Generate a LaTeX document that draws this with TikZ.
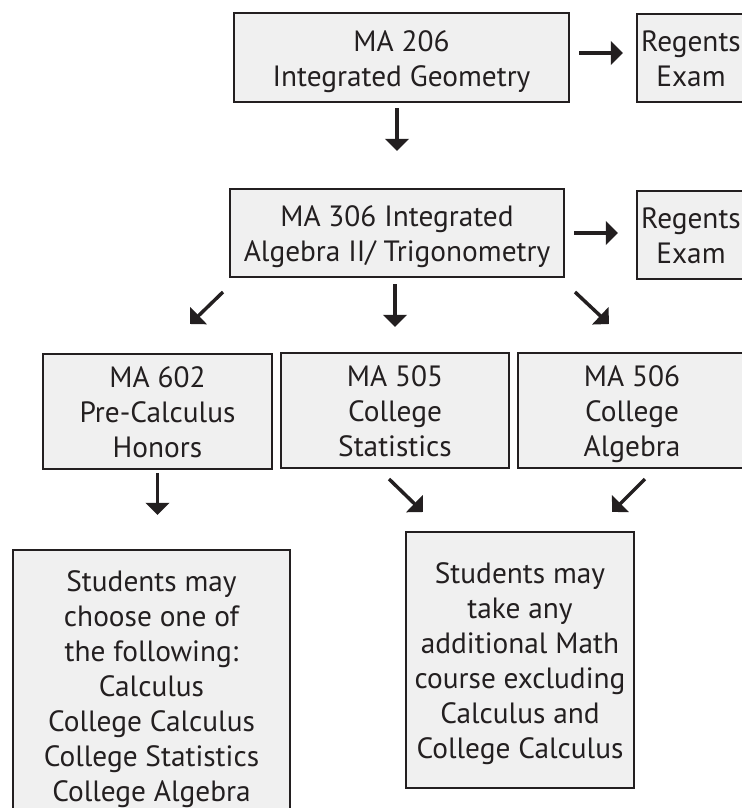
\documentclass[tikz,border=0pt]{standalone}
\usepackage{fontspec}
\setmainfont{PT Sans}
\usetikzlibrary{arrows.meta}
\newcommand{\boxtop}{\rule{0pt}{22pt}}

\begin{document}
\begin{tikzpicture}[x=0.75pt,y=0.75pt,yscale=-1,xscale=1,
	course/.style={draw={rgb, 255:red, 35; green, 31; blue, 32 }, fill={rgb, 255:red, 240; green, 240; blue, 240 }, line width=1.7pt, align=center, inner sep=0pt, text={rgb, 255:red, 35; green, 31; blue, 32 }, font=\fontsize{22}{26.25}\selectfont, execute at end node={\rule[-5.5pt]{0pt}{0pt}}},
	flow/.style={draw={rgb, 255:red, 35; green, 31; blue, 32 }, line width=2.6pt, -{Triangle[width=17.5pt,length=9pt]}}]
					%set diagram size 742 x 808
					\clip (0,0) rectangle (742,808);
					
					%Shape: Rectangle [id:geometry] 
					\node [course, minimum width=251.25pt, minimum height=66.75pt] (b206) at (401.5,57.5) {\boxtop MA 206\\Integrated Geometry};
					%Shape: Rectangle [id:regents1] 
					\node [course, minimum width=81pt, minimum height=66pt] (reg1) at (691,58) {\boxtop Regents\\Exam};
					%Shape: Rectangle [id:algebra2] 
					\node [course, minimum width=250.5pt, minimum height=66pt] (b306) at (397,233) {\boxtop MA 306 Integrated\\Algebra II/ Trigonometry};
					%Shape: Rectangle [id:regents2] 
					\node [course, minimum width=81pt, minimum height=66pt] (reg2) at (691,235) {\boxtop Regents\\Exam};
					%Shape: Rectangle [id:precalc] 
					\node [course, minimum width=171.75pt, minimum height=86.25pt] (b602) at (157.5,411.5) {\boxtop MA 602\\Pre-Calculus\\Honors};
					%Shape: Rectangle [id:statistics] 
					\node [course, minimum width=171pt, minimum height=86.25pt] (b505) at (395,410.5) {\boxtop MA 505\\College\\Statistics};
					%Shape: Rectangle [id:collalgebra] 
					\node [course, minimum width=171pt, minimum height=86.25pt] (b506) at (632,410.5) {\boxtop MA 506\\College\\Algebra};
					%Shape: Rectangle [id:choose] 
					\node [course, minimum width=207.75pt, minimum height=202.5pt] (sL) at (151.5,685) {\boxtop Students may\\choose one of\\the following:\\Calculus\\College Calculus\\College Statistics\\College Algebra};
					%Shape: Rectangle [id:anymath] 
					\node [course, minimum width=171pt, minimum height=192pt] (sR) at (520,660) {\boxtop Students may\\take any\\additional Math\\course excluding\\Calculus and\\College Calculus};
					
					%Straight Lines [id:arrows] 
					\draw [flow, shorten <=3.75pt, shorten >=27.75pt] (b306.north |- b206.south) -- (b306.north) ;
					\draw [flow, shorten <=6.75pt, shorten >=9.75pt] ([yshift=-3.4pt]b206.east) -- ([yshift=-3.4pt]b206.east -| reg1.west) ;
					\draw [flow, shorten <=6.75pt, shorten >=13.5pt] (b306.east) -- (b306.east -| reg2.west) ;
					\draw [flow, shorten <=4.5pt, shorten >=18.75pt] (b505.north |- b306.south) -- (b505.north) ;
					\draw [flow, shorten <=2pt, shorten >=25.5pt] (b602.south) -- (b602.south |- sL.north) ;
					
					%Diagonal Lines [id:diagonals] 
					\coordinate (tl1) at (223,292) ; \coordinate (hl1) at (190,324) ;
					\coordinate (tr1) at (575,292) ; \coordinate (hr1) at (609,324) ;
					\coordinate (tl2) at (389,479) ; \coordinate (hl2) at (423,512) ;
					\coordinate (tr2) at (645,479) ; \coordinate (hr2) at (612,512) ;
					\draw [flow] (tl1) -- (hl1) ;
					\draw [flow] (tr1) -- (hr1) ;
					\draw [flow] (tl2) -- (hl2) ;
					\draw [flow] (tr2) -- (hr2) ;
				\end{tikzpicture}
\end{document}
